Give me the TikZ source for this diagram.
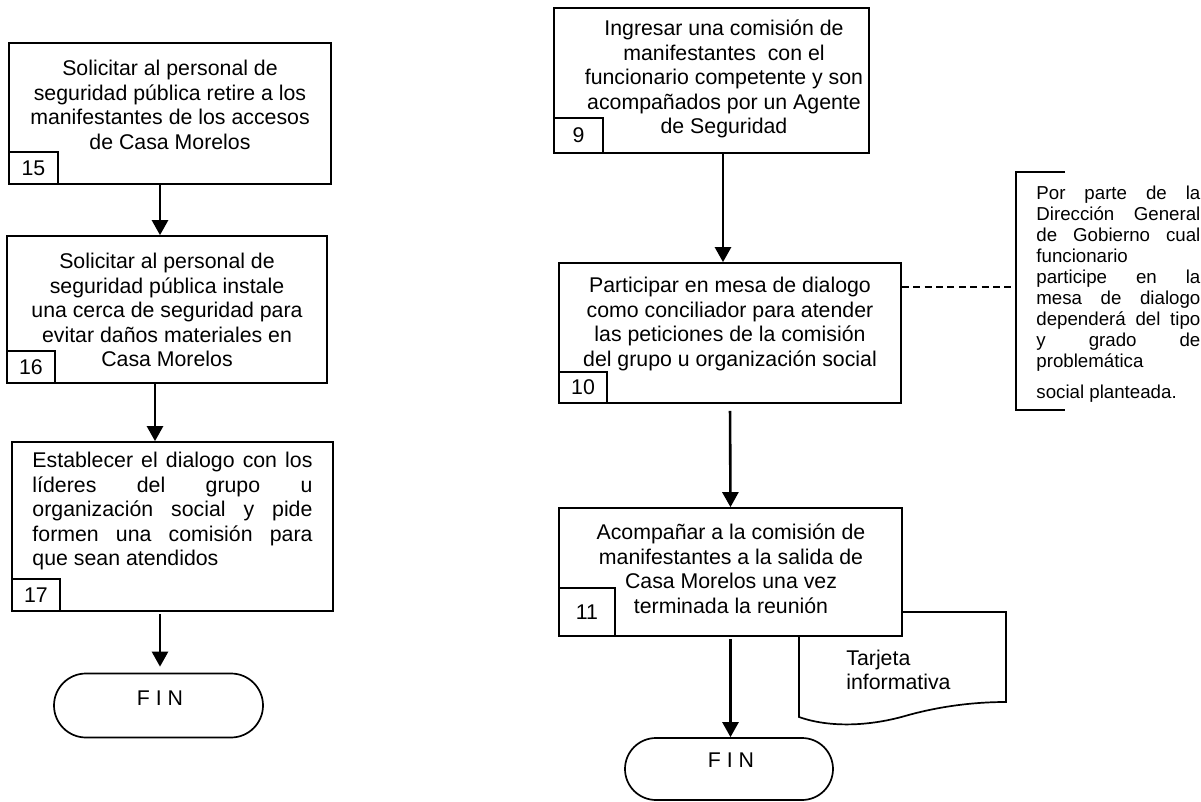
\documentclass[tikz,border=0pt]{standalone}
\usepackage{fontspec}
\setmainfont{Liberation Sans}
\usetikzlibrary{calc, arrows.meta, shapes.misc}
\tolerance=10000
\hyphenpenalty=10000
\tikzset{
    stepbox/.style={draw, rectangle, line width=0.85pt, fill=white, inner sep=0pt},
    numbox/.style={draw, rectangle, line width=0.85pt, anchor=south west, inner sep=0pt, font=\fontsize{10.65}{12.25}\selectfont},
    steptext/.style={align=center, inner sep=0pt, font=\fontsize{10.65}{12.25}\selectfont},
    arr/.style={-{Triangle[length=7.5pt, width=8pt]}, line width=1.3pt}
}

\begin{document}
\begin{tikzpicture}[x=0.5pt, y=-0.5pt,
    endbox/.style={draw, rounded rectangle, line width=0.85pt, minimum width=104.5pt, minimum height=32pt, inner sep=0pt},
    jtext/.style={align=justify, inner sep=0pt, font=\fontsize{10.65}{12.25}\selectfont},
    notetext/.style={align=justify, inner sep=0pt, text width=82pt, font=\fontsize{9.35}{10.5}\selectfont}]
    \useasboundingbox (0,0) rectangle (1201,802);

    % --- Left column ---
    \node [stepbox, minimum width=161pt, minimum height=70.5pt] (p15) at (170, 113.5) {};
    \node [numbox, minimum width=24.5pt, minimum height=16pt] (n15) at (p15.south west) {15};
    \node [steptext] (t15) at (170, 105) {Solicitar al personal de\\seguridad pública retire a los\\manifestantes de los accesos\\de Casa Morelos};

    \node [stepbox, minimum width=160pt, minimum height=73.5pt] (p16) at (167, 309.5) {};
    \node [numbox, minimum width=24pt, minimum height=16pt] (n16) at (p16.south west) {16};
    \node [steptext] (t16) at (167, 310) {Solicitar al personal de\\seguridad pública instale\\una cerca de seguridad para\\evitar daños materiales en\\Casa Morelos};

    \node [stepbox, minimum width=160.5pt, minimum height=84.5pt] (p17) at (172.5, 526.5) {};
    \node [numbox, minimum width=24pt, minimum height=16pt] (n17) at (p17.south west) {17};
    \node [jtext, text width=140pt] (t17) at (172.5, 511) {Establecer el dialogo con los\linebreak líderes del grupo u\linebreak organización social y pide\linebreak formen una comisión para\linebreak que sean atendidos};

    \node [endbox] (fin1) at (158.5, 705.5) {};
    \node [steptext] (f1) at (160, 698) {F I N};

    \draw [arr] ([xshift=-5pt]p15.south) -- ([xshift=-5pt]p15.south |- p16.north);
    \draw [arr] ([xshift=-6pt]p16.south) -- ([xshift=-6pt]p16.south |- p17.north);
    \draw [arr, shorten <=1pt, shorten >=3pt] ([xshift=-6.25pt]p17.south) -- ([xshift=-6.25pt]p17.south |- fin1.north);

    % --- Right column ---
    \node [stepbox, minimum width=157.5pt, minimum height=72.5pt] (p9) at (711.5, 80.5) {};
    \node [numbox, minimum width=24.5pt, minimum height=17.5pt] (n9) at (p9.south west) {9};
    \node [steptext] (t9) at (724, 79) {Ingresar una comisión de\\manifestantes\ \ con el\\funcionario competente y son\\acompañados por un Agente\\de Seguridad};

    \node [stepbox, minimum width=171pt, minimum height=70pt] (p10) at (730, 333) {};
    \node [numbox, minimum width=24pt, minimum height=15.5pt] (n10) at (p10.south west) {10};
    \node [steptext] (t10) at (730, 324) {Participar en mesa de dialogo\\como conciliador para atender\\las peticiones de la comisión\\del grupo u organización social};

    % document shape behind step 11
    \draw [line width=0.85pt, fill=white] (799,612) -- (1006,612) -- (1006,702)
        .. controls (975,702) and (940,706) .. (905,716)
        .. controls (870,726) and (830,728) .. (799,717) -- cycle;
    \node [steptext, align=left, anchor=west] (tarjeta) at (846, 670) {Tarjeta\\informativa};

    \node [stepbox, minimum width=171.5pt, minimum height=64pt] (p11) at (730.5, 572) {};
    \node [numbox, minimum width=28pt, minimum height=24pt] (n11) at (p11.south west) {11};
    \node [steptext] (t11) at (731, 569) {Acompañar a la comisión de\\manifestantes a la salida de\\Casa Morelos una vez\\terminada la reunión};

    \node [endbox, minimum width=104pt, minimum height=31pt] (fin2) at (729, 769) {};
    \node [steptext] (f2) at (731, 760) {F I N};

    \draw [arr] ([xshift=5.75pt]p9.south) -- ([xshift=5.75pt]p9.south |- p10.north);
    \draw [arr, shorten <=3.5pt] (p10.south) -- (p11.north);
    \draw [arr, shorten <=1pt] (p11.south) -- (p11.south |- fin2.north);

    % --- Note on step 10 ---
    \coordinate (note) at (1016, 287);
    \draw [line width=0.8pt, dash pattern=on 3.5pt off 2.2pt] (p10.east |- note) -- (note);
    \draw [line width=0.85pt] (1065,172) -- (1016,172) -- (1016,410) -- (1065,410);
    \node [notetext, anchor=north west] (notetxt) at (1036, 186) {Por parte de la\linebreak Dirección General\linebreak de Gobierno cual\linebreak funcionario\\participe en la\linebreak mesa de dialogo\linebreak dependerá del tipo\linebreak y grado de\linebreak problemática\\[5pt]social planteada.};

\end{tikzpicture}
\end{document}
